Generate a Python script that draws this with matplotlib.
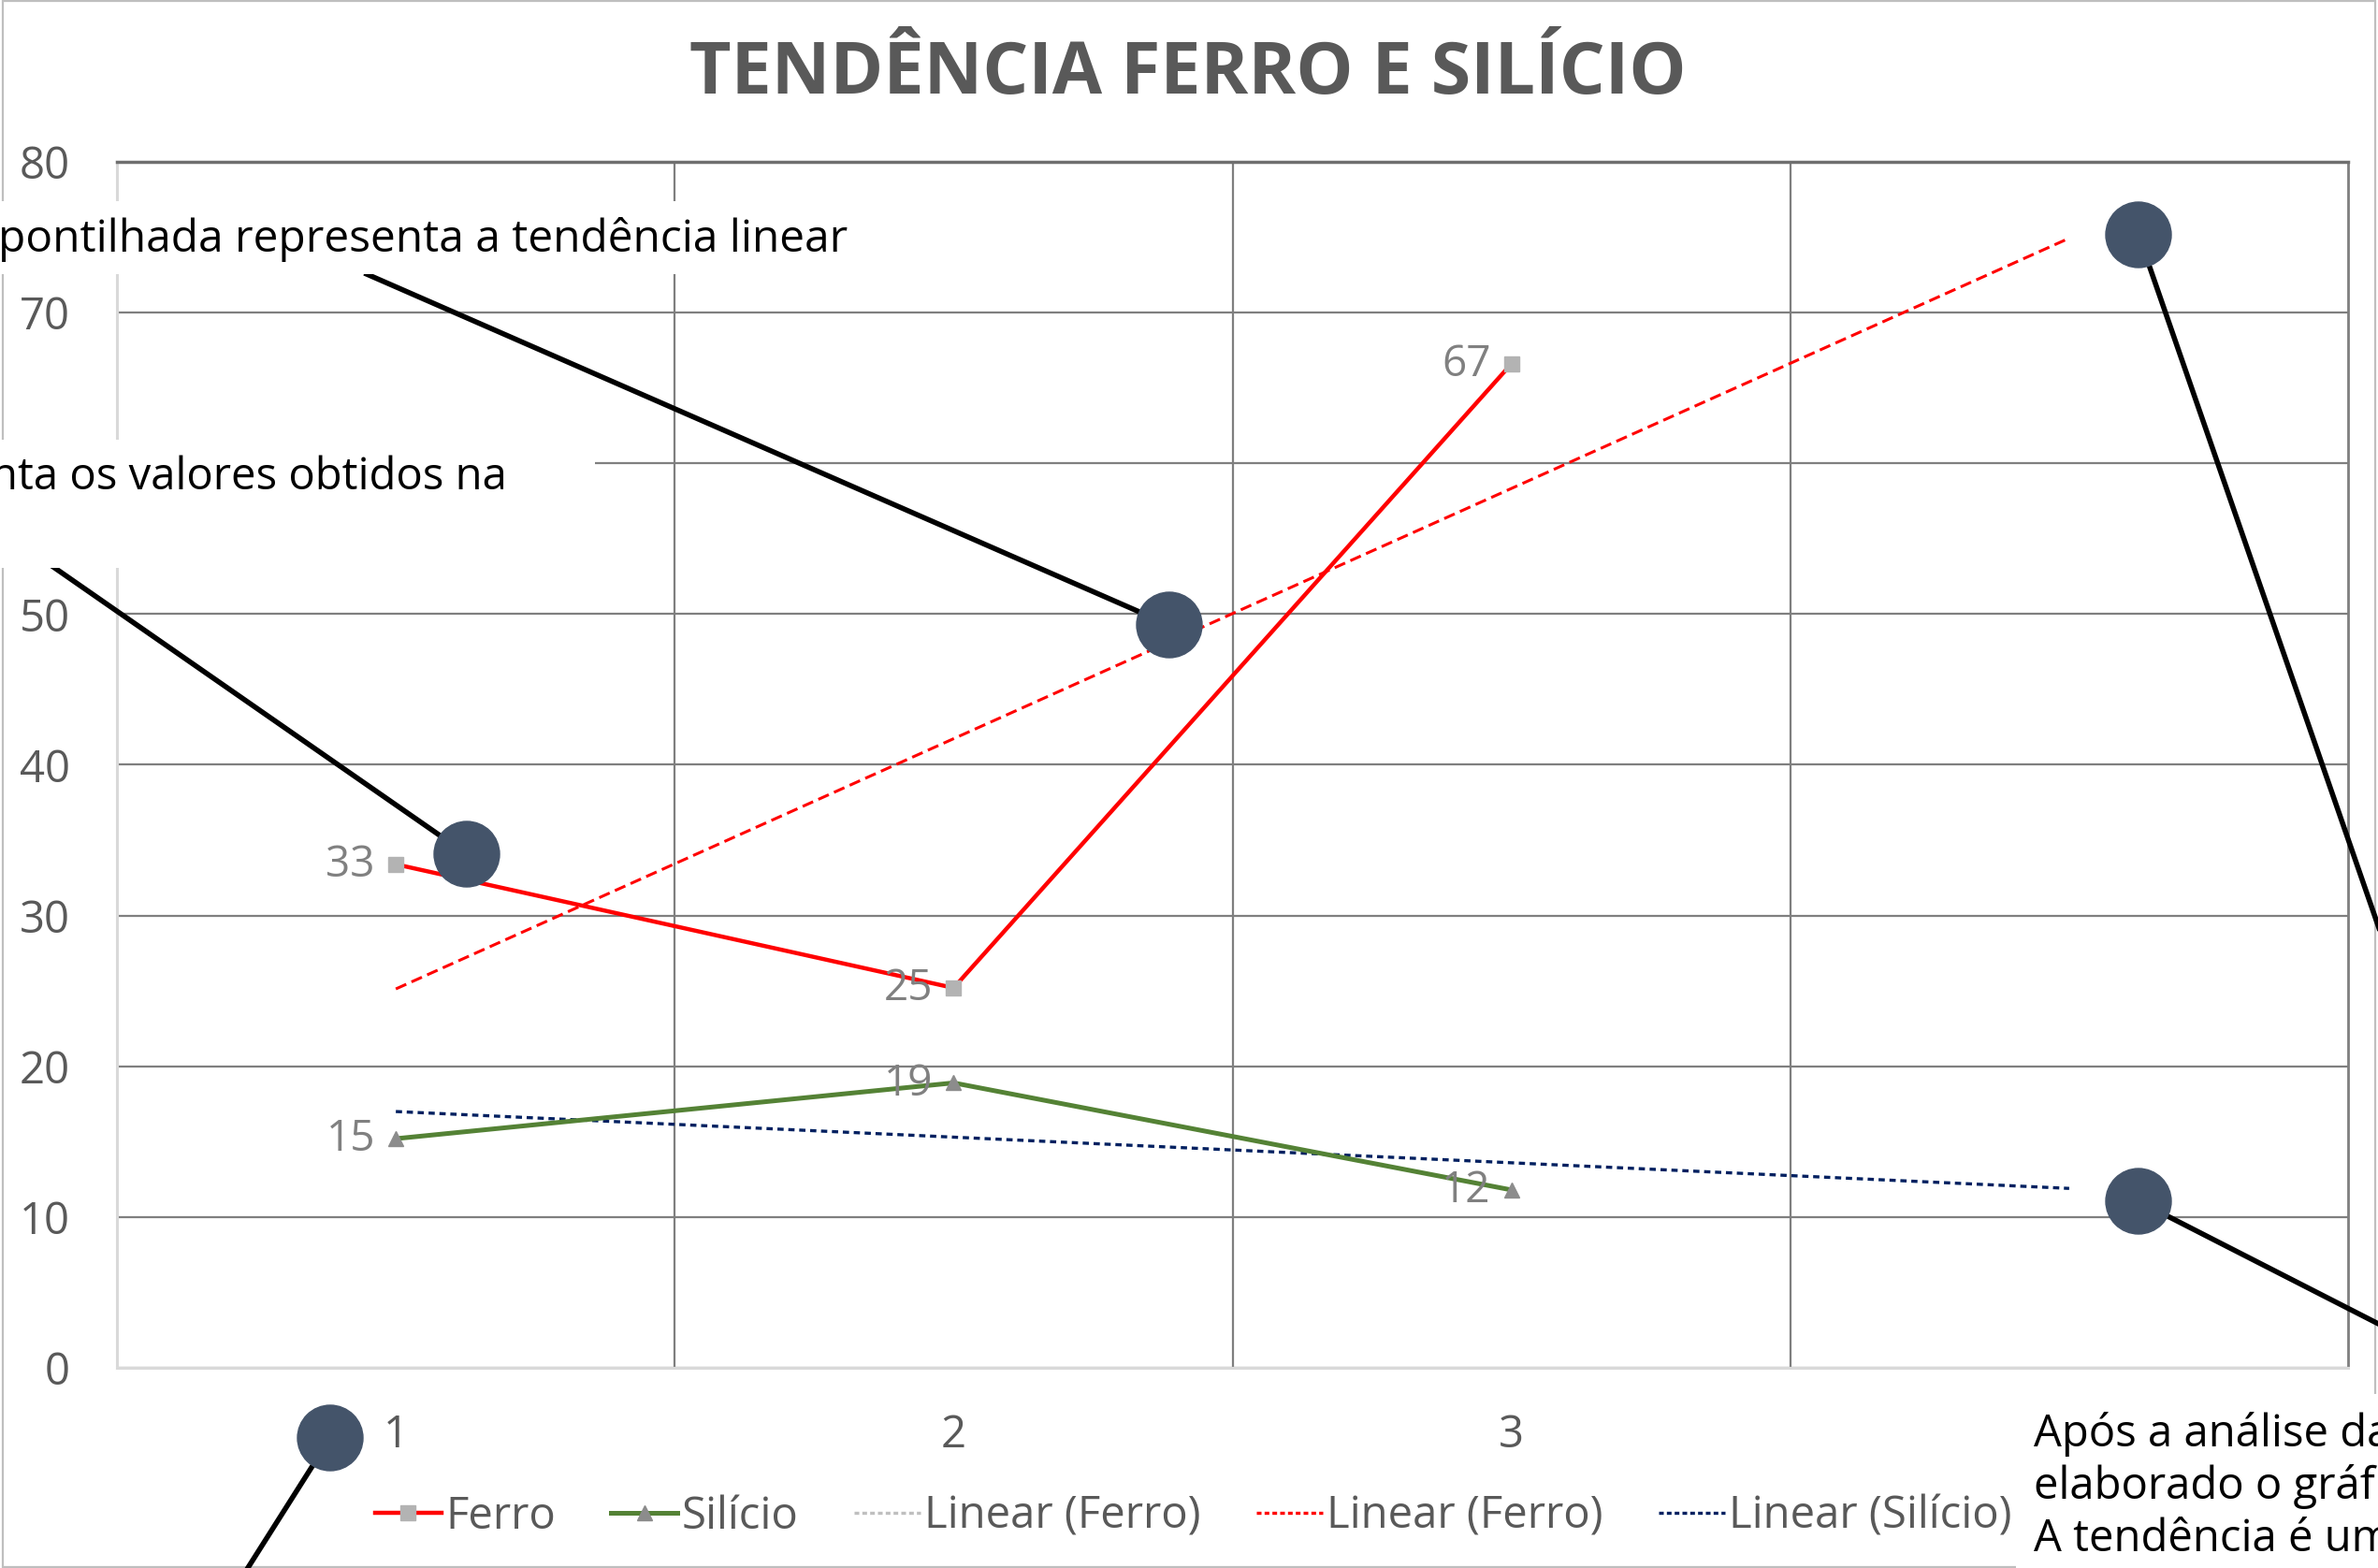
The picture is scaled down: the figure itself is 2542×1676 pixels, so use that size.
import numpy as np
import matplotlib
matplotlib.use('Agg')
import matplotlib.pyplot as plt
from matplotlib.lines import Line2D
from matplotlib.patches import Ellipse, Rectangle

plt.rcParams['font.family'] = ['Open Sans', 'DejaVu Sans']

# Dados
categorias = [1, 2, 3]
ferro = [33.4, 25.2, 66.6]
silicio = [15.2, 18.9, 11.8]
rotulos_x = ['1', '2', '3', '']
y_ticks = [0, 10, 20, 30, 40, 50, 60, 70, 80]

# Tendência linear (previsão de 1 período à frente)
x_tend = np.array([1, 4])
coef_ferro = np.polyfit(categorias, ferro, 1)
coef_silicio = np.polyfit(categorias, silicio, 1)

# Cores
VERMELHO = '#FF0000'
VERDE = '#548235'
AZUL = '#002060'
CINZA_TXT = '#595959'
CINZA_GRADE = '#7F7F7F'
CIRCULO = '#44546A'

W, H = 2542, 1676


def px(x, y):
    # pixel da imagem -> fração da figura
    return x / W, 1 - y / H


fig = plt.figure(figsize=(W / 100, H / 100), dpi=100)
ax = fig.add_axes([125 / W, 1 - 1462 / H, 2385 / W, 1289 / H])

# Séries
ax.plot(categorias, ferro, color=VERMELHO, lw=3.2, marker='s', ms=12,
        mfc='#B3B3B3', mec='#B3B3B3', zorder=5)
ax.plot(categorias, silicio, color=VERDE, lw=3.6, marker='^', ms=12,
        mfc='#8C8C8C', mec='#8C8C8C', zorder=5)

# Linhas de tendência
ax.plot(x_tend, np.polyval(coef_ferro, x_tend), color=VERMELHO, lw=2.2,
        dashes=(4, 2), zorder=4)
ax.plot(x_tend, np.polyval(coef_silicio, x_tend), color=AZUL, lw=2.4,
        dashes=(2, 1.5), zorder=4)

# Rótulos de dados
for serie in [ferro, silicio]:
    for x, v in zip(categorias, serie):
        ax.annotate(f'{v:.0f}', (x, v), xytext=(-16, -1), textcoords='offset points',
                    ha='right', va='center', fontsize=33, color='#808080', zorder=6)

# Eixos e grade
ax.set_xlim(0.5, 4.5)
ax.set_ylim(0, 80)
ax.set_yticks(y_ticks)
ax.set_xticks([1, 2, 3, 4])
ax.set_xticklabels(rotulos_x)
ax.set_xticks([1.5, 2.5, 3.5], minor=True)
ax.tick_params(axis='both', which='both', length=0, labelsize=34, labelcolor=CINZA_TXT)
ax.tick_params(axis='y', pad=36)
ax.tick_params(axis='x', pad=35)
ax.grid(axis='y', which='major', color=CINZA_GRADE, lw=1.6)
ax.grid(axis='x', which='minor', color=CINZA_GRADE, lw=1.6)
ax.set_axisbelow(True)
for lado in ['left', 'bottom']:
    ax.spines[lado].set_color('#D9D9D9')
    ax.spines[lado].set_linewidth(2.2)
ax.spines['top'].set_color('#6F6F6F')
ax.spines['top'].set_linewidth(2.5)
ax.spines['right'].set_color(CINZA_GRADE)
ax.spines['right'].set_linewidth(2)
# o rótulo "60" fica escondido atrás da caixa de texto
for rot in ax.get_yticklabels():
    if rot.get_text() == '60':
        rot.set_visible(False)

# Título
fig.text(*px(1270, 80), 'TENDÊNCIA FERRO E SILÍCIO', ha='center', va='center',
         fontsize=55.5, fontweight='bold', color=CINZA_TXT)

# Legenda
handles = [
    Line2D([], [], color=VERMELHO, lw=3.2, marker='s', ms=12, mfc='#B3B3B3', mec='#B3B3B3'),
    Line2D([], [], color=VERDE, lw=3.6, marker='^', ms=12, mfc='#8C8C8C', mec='#8C8C8C'),
    Line2D([], [], color='#BFBFBF', lw=2.4, dashes=(1.5, 1)),
    Line2D([], [], color=VERMELHO, lw=2.4, dashes=(1.5, 1)),
    Line2D([], [], color=AZUL, lw=2.4, dashes=(1.5, 1)),
]
labels = ['Ferro', 'Silício', 'Linear (Ferro)', 'Linear (Ferro)', 'Linear (Silício)']
fig.legend(handles, labels, loc='center', bbox_to_anchor=px(1276, 1621), ncol=5,
           frameon=False, fontsize=34, labelcolor=CINZA_TXT, handlelength=1.5,
           handletextpad=0.1, columnspacing=1.25)

# Borda da área do gráfico
fig.add_artist(Rectangle(px(3, 1675), 2536 / W, 1674 / H, transform=fig.transFigure,
                         fill=False, ec='#BFBFBF', lw=1.6, zorder=1))

# Chamadas (balões com linha)
chamadas = [
    ((499, 913), (57, 606)),
    ((1250, 668), (392, 293)),
    ((2286, 251), (2560, 1041)),
    ((2286, 1284), (2560, 1424)),
    ((353, 1537), (256, 1690)),
]
for (cx, cy), (lx, ly) in chamadas:
    fig.add_artist(Line2D([cx / W, lx / W], [1 - cy / H, 1 - ly / H],
                          transform=fig.transFigure, color='black', lw=4, zorder=6))
    fig.add_artist(Ellipse(px(cx, cy), 70 / W, 70 / H, transform=fig.transFigure,
                           color=CIRCULO, zorder=8))

# Caixas de texto
caixas = [(-20, 215, 950, 78), (-20, 470, 656, 137), (2155, 1490, 420, 200)]
for x0, y0, w, h in caixas:
    fig.add_artist(Rectangle(px(x0, y0 + h), w / W, h / H, transform=fig.transFigure,
                             fc='white', ec='none', zorder=7))

fig.text(*px(-2, 256), 'pontilhada representa a tendência linear', ha='left', va='center',
         fontsize=34.5, color='black', zorder=9)
fig.text(*px(-10, 510), 'nta os valores obtidos na', ha='left', va='center',
         fontsize=34, color='black', zorder=9)
texto_final = ['Após a análise da amostra, foi',
               'elaborado o gráfico de tendência.',
               'A tendência é um aumento do ferro']
for i, linha in enumerate(texto_final):
    fig.text(*px(2174, 1533 + 56 * i), linha, ha='left', va='center',
             fontsize=34, color='black', zorder=9)

fig.savefig('out.png', dpi=100)
